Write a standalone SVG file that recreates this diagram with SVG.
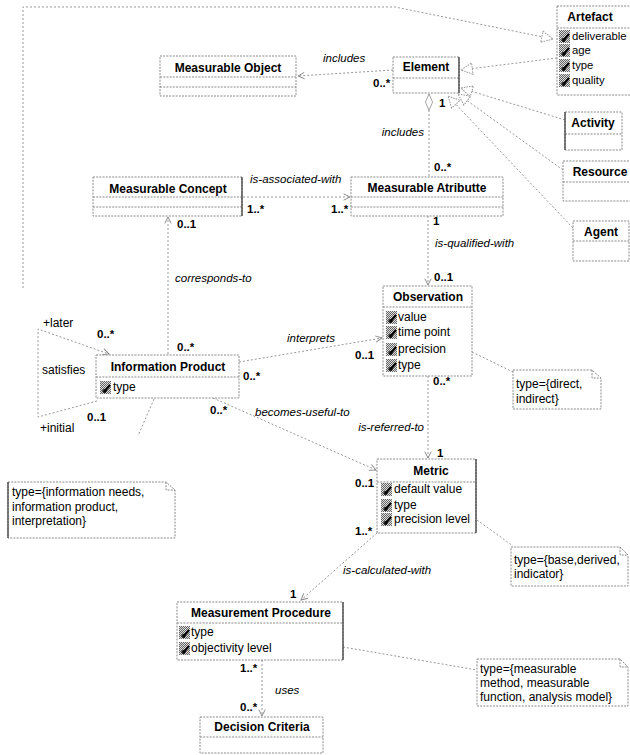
<svg xmlns="http://www.w3.org/2000/svg" width="630" height="755" viewBox="0 0 630 755">
<defs>
<style>
.box{fill:#fff;stroke:#8a8a8a;stroke-width:1;stroke-dasharray:2 1.2}
.div{fill:none;stroke:#8a8a8a;stroke-width:1;stroke-dasharray:2 1.2}
.solid{fill:none;stroke:#333;stroke-width:1.2}
.conn{fill:none;stroke:#999;stroke-width:1;stroke-dasharray:2 2}
.cls{font-family:"Liberation Sans",Arial,sans-serif;font-size:12px;font-weight:bold;text-anchor:middle;fill:#000}
.att{font-family:"Liberation Sans",Arial,sans-serif;font-size:12px;fill:#000}
.att2{font-family:"Liberation Sans",Arial,sans-serif;font-size:11.3px;fill:#000}
.lbl{font-family:"Liberation Sans",Arial,sans-serif;font-size:11.5px;font-style:italic;fill:#000}
.mul{font-family:"Liberation Sans",Arial,sans-serif;font-size:11.5px;font-weight:bold;fill:#000}
.role{font-family:"Liberation Sans",Arial,sans-serif;font-size:12px;fill:#000}
</style>
<pattern id="chk" width="2" height="2" patternUnits="userSpaceOnUse">
<rect width="2" height="2" fill="#ddd"/><rect width="1" height="1" fill="#666"/><rect x="1" y="1" width="1" height="1" fill="#666"/>
</pattern>
<g id="ic"><rect x="0" y="-10" width="11" height="13" fill="url(#chk)"/><path d="M4 1 L10 -6" stroke="#000" stroke-width="2.2" fill="none"/><circle cx="4.5" cy="0" r="1.6" fill="none" stroke="#000" stroke-width="1"/></g>
<marker id="open" viewBox="0 0 10 10" refX="9" refY="5" markerWidth="8" markerHeight="8" orient="auto" markerUnits="userSpaceOnUse">
<path d="M1 1 L9 5 L1 9" fill="none" stroke="#888" stroke-width="1.2"/></marker>
<marker id="tri" viewBox="0 0 16 16" refX="15" refY="8" markerWidth="13" markerHeight="13" orient="auto" markerUnits="userSpaceOnUse">
<path d="M1 1 L15 8 L1 15 Z" fill="#fff" stroke="#999" stroke-width="1.2" stroke-dasharray="2 1.2"/></marker>
<marker id="dia" viewBox="0 0 20 10" refX="1" refY="5" markerWidth="18" markerHeight="9" orient="auto" markerUnits="userSpaceOnUse">
<path d="M1 5 L10 1 L19 5 L10 9 Z" fill="#fff" stroke="#999" stroke-width="1"/></marker>
</defs>
<rect width="630" height="755" fill="#fff"/>

<g id="connectors">
<polyline class="conn" points="23,288 23,7 395,7 553,39" marker-end="url(#tri)"/>
<line class="conn" x1="393" y1="70" x2="298" y2="76" marker-end="url(#open)"/>
<line class="conn" x1="557" y1="58" x2="461" y2="70" marker-end="url(#tri)"/>
<line class="conn" x1="565" y1="120" x2="461" y2="88" marker-end="url(#tri)"/>
<line class="conn" x1="563" y1="170" x2="458" y2="94" marker-end="url(#tri)"/>
<line class="conn" x1="573" y1="228" x2="448" y2="96" marker-end="url(#tri)"/>
<line class="conn" x1="429" y1="94" x2="429" y2="177" marker-start="url(#dia)"/>
<line class="conn" x1="243" y1="197" x2="350" y2="197" marker-end="url(#open)"/>
<line class="conn" x1="168" y1="354" x2="168" y2="217" marker-end="url(#open)"/>
<line class="conn" x1="428" y1="216" x2="428" y2="285" marker-end="url(#open)"/>
<line class="conn" x1="239" y1="362" x2="382" y2="338" marker-end="url(#open)"/>
<polyline class="conn" points="97,401 38,417 38,329 109,354" marker-end="url(#open)"/>
<line class="conn" x1="213" y1="398" x2="376" y2="470" marker-end="url(#open)"/>
<line class="conn" x1="154" y1="399" x2="138" y2="436"/>
<line class="conn" x1="428" y1="376" x2="428" y2="458" marker-end="url(#open)"/>
<line class="conn" x1="472" y1="352" x2="513" y2="372"/>
<line class="conn" x1="477" y1="520" x2="513" y2="546"/>
<line class="conn" x1="377" y1="533" x2="301" y2="600" marker-end="url(#open)"/>
<line class="conn" x1="343" y1="647" x2="477" y2="670"/>
<line class="conn" x1="262" y1="660" x2="262" y2="716" marker-end="url(#open)"/>
</g>

<g id="measurable-object">
<rect class="box" x="160" y="56" width="136" height="40"/>
<line class="div" x1="160" y1="77" x2="296" y2="77"/>
<line class="div" x1="160" y1="87" x2="296" y2="87"/>
<text class="cls" x="228" y="72">Measurable Object</text>
</g>

<g id="element">
<rect class="box" x="393" y="57" width="66" height="36"/>
<line class="div" x1="393" y1="78" x2="459" y2="78"/>
<line class="solid" x1="459" y1="57" x2="459" y2="93"/>
<text class="cls" x="426" y="71">Element</text>
</g>

<g id="artefact">
<rect class="box" x="557" y="6" width="80" height="89"/>
<line class="div" x1="557" y1="28" x2="630" y2="28"/>
<text class="cls" x="590" y="21">Artefact</text>
<use href="#ic" x="559" y="40"/><text class="att2" x="572" y="40">deliverable</text>
<use href="#ic" x="559" y="54"/><text class="att2" x="572" y="54">age</text>
<use href="#ic" x="559" y="69"/><text class="att2" x="572" y="69">type</text>
<use href="#ic" x="559" y="84"/><text class="att2" x="572" y="84">quality</text>
</g>

<g id="activity">
<rect class="box" x="565" y="112" width="57" height="38"/>
<line class="div" x1="565" y1="134" x2="622" y2="134"/>
<line class="solid" x1="565" y1="112" x2="565" y2="150"/>
<text class="cls" x="593" y="127">Activity</text>
</g>

<g id="resource">
<rect class="box" x="563" y="161" width="75" height="40"/>
<line class="div" x1="563" y1="182" x2="630" y2="182"/>
<text class="cls" x="600" y="176">Resource</text>
</g>

<g id="agent">
<rect class="box" x="573" y="221" width="56" height="40"/>
<line class="div" x1="573" y1="241" x2="629" y2="241"/>
<text class="cls" x="601" y="236">Agent</text>
</g>

<g id="measurable-concept">
<rect class="box" x="93" y="177" width="149" height="39"/>
<line class="div" x1="93" y1="197" x2="242" y2="197"/>
<line class="div" x1="93" y1="207" x2="242" y2="207"/>
<line class="solid" x1="242" y1="177" x2="242" y2="216"/>
<text class="cls" x="168" y="193">Measurable Concept</text>
</g>

<g id="measurable-attribute">
<rect class="box" x="351" y="177" width="152" height="39"/>
<line class="div" x1="351" y1="197" x2="503" y2="197"/>
<line class="div" x1="351" y1="207" x2="503" y2="207"/>
<text class="cls" x="427" y="192">Measurable Atributte</text>
</g>

<g id="observation">
<rect class="box" x="383" y="286" width="89" height="90"/>
<line class="div" x1="383" y1="307" x2="472" y2="307"/>
<text class="cls" x="428" y="301">Observation</text>
<use href="#ic" x="386" y="321"/><text class="att" x="398" y="321">value</text>
<use href="#ic" x="386" y="336"/><text class="att" x="398" y="336">time point</text>
<use href="#ic" x="386" y="353"/><text class="att" x="398" y="353">precision</text>
<use href="#ic" x="386" y="369"/><text class="att" x="398" y="369">type</text>
</g>

<g id="information-product">
<rect class="box" x="96" y="355" width="143" height="43"/>
<line class="div" x1="96" y1="377" x2="239" y2="377"/>
<text class="cls" x="168" y="371">Information Product</text>
<use href="#ic" x="100" y="391"/><text class="att" x="113" y="391">type</text>
</g>

<g id="metric">
<rect class="box" x="377" y="459" width="99" height="74"/>
<line class="div" x1="377" y1="482" x2="476" y2="482"/>
<line class="solid" x1="476" y1="459" x2="476" y2="533"/>
<text class="cls" x="431" y="475">Metric</text>
<use href="#ic" x="381" y="493"/><text class="att" x="394" y="493">default value</text>
<use href="#ic" x="381" y="509"/><text class="att" x="394" y="509">type</text>
<use href="#ic" x="381" y="523"/><text class="att" x="394" y="523">precision level</text>
</g>

<g id="measurement-procedure">
<rect class="box" x="177" y="602" width="166" height="58"/>
<line class="div" x1="177" y1="623" x2="343" y2="623"/>
<line class="solid" x1="343" y1="602" x2="343" y2="660"/>
<text class="cls" x="261" y="617">Measurement Procedure</text>
<use href="#ic" x="179" y="636"/><text class="att" x="191" y="636">type</text>
<use href="#ic" x="179" y="652"/><text class="att" x="191" y="652">objectivity level</text>
</g>

<g id="decision-criteria">
<rect class="box" x="200" y="717" width="123" height="36"/>
<line class="div" x1="200" y1="737" x2="323" y2="737"/>
<text class="cls" x="262" y="731">Decision Criteria</text>
</g>

<g id="note-observation">
<path class="box" d="M513 370 H592 L601 378 V409 H513 Z"/>
<path class="div" d="M592 370 V378 H601"/>
<text class="att" x="516" y="388">type={direct,</text>
<text class="att" x="516" y="403">indirect}</text>
</g>

<g id="note-information-product">
<path class="box" d="M8 482 H166 L175 490 V538 H8 Z"/>
<path class="div" d="M166 482 V490 H175"/>
<line class="solid" x1="8" y1="482" x2="8" y2="538"/>
<text class="att" x="12" y="496">type={information needs,</text>
<text class="att" x="12" y="511">information product,</text>
<text class="att" x="12" y="525">interpretation}</text>
</g>

<g id="note-metric">
<path class="box" d="M511 547 H620 L628 555 V586 H511 Z"/>
<path class="div" d="M620 547 V555 H628"/>
<text class="att" x="514" y="564">type={base,derived,</text>
<text class="att" x="514" y="578">indicator}</text>
</g>

<g id="note-procedure">
<path class="box" d="M477 659 H620 L628 667 V706 H477 Z"/>
<path class="div" d="M620 659 V667 H628"/>
<text class="att" x="480" y="673">type={measurable</text>
<text class="att" x="480" y="687">method, measurable</text>
<text class="att" x="480" y="701">function, analysis model}</text>
</g>

<g id="labels">
<text class="lbl" x="323" y="62">includes</text>
<text class="mul" x="373" y="87">0..*</text>
<text class="mul" x="439" y="107">1</text>
<text class="lbl" x="424" y="136" text-anchor="end">includes</text>
<text class="mul" x="434" y="171">0..*</text>
<text class="lbl" x="250" y="183">is-associated-with</text>
<text class="mul" x="247" y="213">1..*</text>
<text class="mul" x="331" y="213">1..*</text>
<text class="mul" x="177" y="228">0..1</text>
<text class="lbl" x="175" y="282">corresponds-to</text>
<text class="mul" x="433" y="225">1</text>
<text class="lbl" x="435" y="247">is-qualified-with</text>
<text class="mul" x="434" y="281">0..1</text>
<text class="role" x="43" y="327">+later</text>
<text class="mul" x="97" y="338">0..*</text>
<text class="mul" x="177" y="351">0..*</text>
<text class="role" x="42" y="374">satisfies</text>
<text class="mul" x="87" y="421">0..1</text>
<text class="role" x="40" y="432">+initial</text>
<text class="lbl" x="287" y="342">interprets</text>
<text class="mul" x="243" y="380">0..*</text>
<text class="mul" x="355" y="359">0..1</text>
<text class="mul" x="210" y="414">0..*</text>
<text class="lbl" x="255" y="416">becomes-useful-to</text>
<text class="mul" x="433" y="385">0..*</text>
<text class="lbl" x="424" y="431" text-anchor="end">is-referred-to</text>
<text class="mul" x="437" y="457">1</text>
<text class="mul" x="355" y="487">0..1</text>
<text class="mul" x="355" y="535">1..*</text>
<text class="lbl" x="343" y="574">is-calculated-with</text>
<text class="mul" x="290" y="598">1</text>
<text class="mul" x="240" y="672">1..*</text>
<text class="lbl" x="275" y="694">uses</text>
<text class="mul" x="240" y="711">0..*</text>
</g>
</svg>
